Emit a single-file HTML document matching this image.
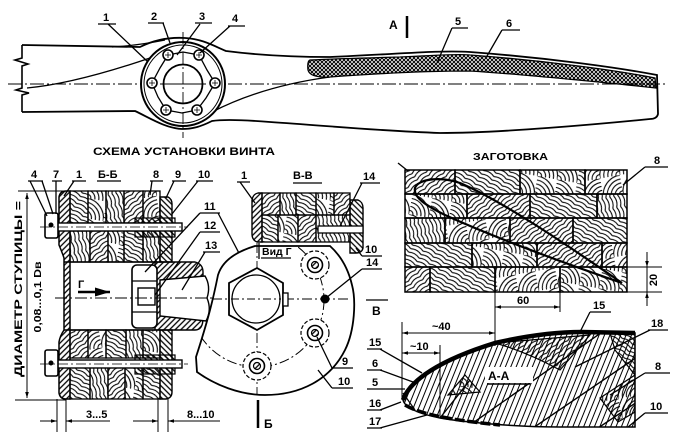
<!DOCTYPE html>
<html><head><meta charset="utf-8"><style>
html,body{margin:0;padding:0;background:#fff;}
svg{display:block;}
text{font-family:"Liberation Sans","DejaVu Sans",sans-serif;font-weight:bold;fill:#000;}
</style></head><body>
<svg width="675" height="438" viewBox="0 0 675 438" xmlns="http://www.w3.org/2000/svg">
<defs>
<pattern id="wA" width="12" height="8" patternUnits="userSpaceOnUse" patternTransform="rotate(30)"><path d="M0,2 Q6,-1 12,2 M0,6 Q6,3 12,6" fill="none" stroke="#000" stroke-width="1.1"/></pattern>
<pattern id="wB" width="12" height="8" patternUnits="userSpaceOnUse" patternTransform="rotate(-40)"><path d="M0,2 Q6,-1 12,2 M0,6 Q6,3 12,6" fill="none" stroke="#000" stroke-width="1.1"/></pattern>
<pattern id="wC" width="12" height="8" patternUnits="userSpaceOnUse" patternTransform="rotate(75)"><path d="M0,2 Q6,-1 12,2 M0,6 Q6,3 12,6" fill="none" stroke="#000" stroke-width="1.1"/></pattern>
<pattern id="wD" width="20" height="20" patternUnits="userSpaceOnUse" patternTransform="rotate(10)"><path d="M0,16 A4,4 0 0 1 4,20 M0,12 A8,8 0 0 1 8,20 M0,8 A12,12 0 0 1 12,20 M0,4 A16,16 0 0 1 16,20 M0,0 A20,20 0 0 1 20,20" fill="none" stroke="#000" stroke-width="1.1"/></pattern>
<pattern id="wE" width="20" height="20" patternUnits="userSpaceOnUse" patternTransform="rotate(-100)"><path d="M0,16 A4,4 0 0 1 4,20 M0,12 A8,8 0 0 1 8,20 M0,8 A12,12 0 0 1 12,20 M0,4 A16,16 0 0 1 16,20 M0,0 A20,20 0 0 1 20,20" fill="none" stroke="#000" stroke-width="1.1"/></pattern>
<pattern id="h1" width="4" height="4" patternUnits="userSpaceOnUse" patternTransform="rotate(45)"><line x1="1" y1="0" x2="1" y2="4" stroke="#000" stroke-width="1.3"/></pattern>
<pattern id="h2" width="4" height="4" patternUnits="userSpaceOnUse" patternTransform="rotate(-45)"><line x1="1" y1="0" x2="1" y2="4" stroke="#000" stroke-width="1.3"/></pattern>
<pattern id="hs" width="5" height="5" patternUnits="userSpaceOnUse" patternTransform="rotate(22)"><line x1="1" y1="0" x2="1" y2="5" stroke="#000" stroke-width="1"/></pattern>
<pattern id="xh" width="4" height="4" patternUnits="userSpaceOnUse"><path d="M0,0 L4,4 M4,0 L0,4" stroke="#000" stroke-width="1"/></pattern>
<marker id="a" viewBox="0 0 10 10" refX="10" refY="5" markerWidth="7" markerHeight="6" orient="auto-start-reverse"><path d="M0,2 L10,5 L0,8 Z"/></marker>
<clipPath id="diskclip"><path d="M255,246 C235,252 222,262 218,275 C213,300 208,320 196,357 L197,372 C215,385 240,395 265,395 C300,395 330,380 345,350 C355,330 356,300 352,285 C348,268 340,255 330,246 Z"/></clipPath>
<clipPath id="aaclip"><path d="M403,400 C410,380 440,360 495,343 C530,335 560,332 582,332 L635,333 L635,427 L560,427 C520,427 470,423 440,418 C420,414 405,408 403,400 Z"/></clipPath>
</defs>

<!-- ============ TOP PROPELLER ============ -->
<path d="M22,45 L140,47 C152,41 168,37 185,38 C202,39 212,45 226,51 C265,56 300,57 330,57 C400,54 440,50 470,52 C550,58 620,68 657,75 L658,114 Q657,119 650,119 C600,124 500,133 440,133 C380,131 330,126 270,122 C245,120 225,119 212,121 C200,127 192,129 182,129 C165,128 150,118 135,111 L22,112" fill="#fff" stroke="#000" stroke-width="1.8"/>
<path d="M22,45 L22,58 L15,60 L28,64 L22,66 L22,88 L16,90 L29,93 L22,95 L22,112" fill="none" stroke="#000" stroke-width="1.6"/>
<path d="M310,60 C330,59 360,58 400,57 C440,55 460,54 470,55 C550,61 620,71 655,78 L656,88 C620,84 520,74 470,71 C420,71 370,74 330,77 Q310,78 308,70 Q307,61 310,60 Z" fill="url(#xh)" stroke="#000" stroke-width="1.3"/>
<path d="M27,88 C60,85 100,75 150,58" fill="none" stroke="#000" stroke-width="1.3"/>
<path d="M212,112 C245,95 285,83 330,77" fill="none" stroke="#000" stroke-width="1.3"/>
<path d="M112,47 C130,46 150,43 165,40" fill="none" stroke="#000" stroke-width="1.2"/>
<line x1="8" y1="84" x2="668" y2="84" stroke="#000" stroke-width="0.9" stroke-dasharray="14 3 2 3"/>
<!-- hub -->
<circle cx="183" cy="84" r="42" fill="#fff" stroke="#000" stroke-width="2"/>
<circle cx="183" cy="84" r="39" fill="none" stroke="#000" stroke-width="1"/>
<polygon points="168,55 183,52 199,55 207,70 215,83 206,98 197,110 182,113 166,110 158,97 152,83 160,68" fill="none" stroke="#000" stroke-width="1.3"/>
<circle cx="183" cy="84" r="19.5" fill="#fff" stroke="#000" stroke-width="1.8"/>
<line x1="183" y1="32" x2="183" y2="138" stroke="#000" stroke-width="0.9" stroke-dasharray="12 3 2 3"/>
<line x1="160" y1="84" x2="206" y2="84" stroke="#000" stroke-width="0.9"/>
<g fill="#fff" stroke="#000" stroke-width="1.6">
<circle cx="168" cy="55" r="5"/><circle cx="199" cy="55" r="5"/><circle cx="152" cy="83" r="5"/><circle cx="215" cy="83" r="5"/><circle cx="166" cy="110" r="5"/><circle cx="197" cy="110" r="5"/>
</g>
<g stroke="#000" stroke-width="0.8">
<path d="M165,55 h6 M168,52 v6 M196,55 h6 M199,52 v6 M149,83 h6 M152,80 v6 M212,83 h6 M215,80 v6 M163,110 h6 M166,107 v6 M194,110 h6 M197,107 v6"/>
</g>
<!-- top labels -->
<g stroke="#000" stroke-width="1.3" fill="none">
<path d="M98,24 H116 M108,24 L148,62"/>
<path d="M148,23 H164 M163,23 L170,43"/>
<path d="M195,23 H212 M200,24 L177,55"/>
<path d="M228,26 H245 M230,26 L200,53"/>
<path d="M452,28 H468 M452,28 L437,63"/>
<path d="M502,30 H520 M502,30 L487,56"/>
</g>
<g font-size="11">
<text x="103" y="21">1</text><text x="151" y="20">2</text><text x="199" y="20">3</text><text x="232" y="22">4</text>
<text x="455" y="25">5</text><text x="506" y="27">6</text>
<text x="389" y="29" font-size="12">A</text>
</g>
<line x1="407" y1="16" x2="407" y2="38" stroke="#000" stroke-width="2.5"/>

<!-- ============ TITLES ============ -->
<text x="93" y="155" font-size="11" textLength="182" lengthAdjust="spacingAndGlyphs">СХЕМА  УСТАНОВКИ  ВИНТА</text>
<text x="473" y="160" font-size="10.5" textLength="75" lengthAdjust="spacingAndGlyphs">ЗАГОТОВКА</text>

<!-- ============ SECTION Б-Б ============ -->
<g stroke="#000" stroke-width="1.3">
<rect x="70" y="191" width="18" height="32" fill="url(#wA)"/>
<rect x="88" y="191" width="18" height="32" fill="url(#wD)"/>
<rect x="106" y="191" width="18" height="32" fill="url(#wC)"/>
<rect x="124" y="191" width="19" height="32" fill="url(#wB)"/>
<rect x="143" y="191" width="17" height="32" fill="url(#wE)"/>
<rect x="70" y="231" width="20" height="31" fill="url(#wC)"/>
<rect x="90" y="231" width="18" height="31" fill="url(#wB)"/>
<rect x="108" y="231" width="16" height="31" fill="url(#wD)"/>
<rect x="124" y="231" width="19" height="31" fill="url(#wA)"/>
<rect x="143" y="231" width="17" height="31" fill="url(#wC)"/>
<rect x="70" y="330" width="18" height="28" fill="url(#wB)"/>
<rect x="88" y="330" width="18" height="28" fill="url(#wE)"/>
<rect x="106" y="330" width="20" height="28" fill="url(#wA)"/>
<rect x="126" y="330" width="17" height="28" fill="url(#wC)"/>
<rect x="143" y="330" width="17" height="28" fill="url(#wD)"/>
<rect x="70" y="366" width="20" height="33" fill="url(#wA)"/>
<rect x="90" y="366" width="18" height="33" fill="url(#wC)"/>
<rect x="108" y="366" width="17" height="33" fill="url(#wB)"/>
<rect x="125" y="366" width="18" height="33" fill="url(#wD)"/>
<rect x="143" y="366" width="17" height="33" fill="url(#wA)"/>
</g>
<!-- left plate -->
<path d="M66,191 Q60,191 59,197 L59,245 Q62,252 64,258 L64,330 Q60,336 59,342 L59,393 Q60,399 66,399 L70,399 L70,191 Z" fill="url(#h1)" stroke="#000" stroke-width="1.5"/>
<line x1="64" y1="262" x2="155" y2="262" stroke="#000" stroke-width="1.5"/>
<line x1="64" y1="330" x2="155" y2="330" stroke="#000" stroke-width="1.5"/>
<!-- right flange -->
<path d="M160,197 L168,197 Q172,199 172,204 L172,262 L160,262 Z" fill="url(#h2)" stroke="#000" stroke-width="1.4"/>
<path d="M160,330 L172,330 L172,392 Q172,398 166,399 L160,399 Z" fill="url(#h2)" stroke="#000" stroke-width="1.4"/>
<!-- hub body 13 -->
<path d="M155,262 L195,262 Q203,264 203,272 L203,318 Q203,330 195,330 L155,330 Z" fill="url(#h1)" stroke="#000" stroke-width="1.4"/>
<path d="M160,280 L205,276 Q211,286 207,298 Q212,310 206,321 L160,316 Z" fill="#fff" stroke="#000" stroke-width="1.4"/>
<!-- nut 12 -->
<rect x="132" y="265" width="25" height="63" rx="5" fill="#fff" stroke="#000" stroke-width="1.6"/>
<path d="M132,281 H157 M132,312 H157" stroke="#000" stroke-width="1.2"/>
<rect x="138" y="288" width="17" height="17" fill="#fff" stroke="#000" stroke-width="1.4"/>
<!-- bolts -->
<g stroke="#000">
<rect x="135" y="218" width="40" height="19" fill="url(#h2)" stroke-width="1.2"/>
<rect x="55" y="223" width="127" height="8" fill="#fff" stroke-width="1.4"/>
<rect x="45" y="213" width="13" height="25" rx="2" fill="#fff" stroke-width="1.6"/>
<circle cx="51" cy="225" r="2" fill="#000"/>
<rect x="135" y="355" width="40" height="19" fill="url(#h2)" stroke-width="1.2"/>
<rect x="55" y="360" width="127" height="8" fill="#fff" stroke-width="1.4"/>
<rect x="45" y="350" width="13" height="26" rx="2" fill="#fff" stroke-width="1.6"/>
<circle cx="51" cy="363" r="2" fill="#000"/>
</g>
<line x1="40" y1="227" x2="188" y2="227" stroke="#000" stroke-width="0.8" stroke-dasharray="10 3 2 3"/>
<line x1="40" y1="364" x2="188" y2="364" stroke="#000" stroke-width="0.8" stroke-dasharray="10 3 2 3"/>
<line x1="55" y1="298" x2="215" y2="298" stroke="#000" stroke-width="0.9" stroke-dasharray="12 3 2 3"/>
<!-- arrow Г -->
<line x1="78" y1="292" x2="110" y2="292" stroke="#000" stroke-width="2.5" marker-end="url(#a)"/>
<text x="78" y="288" font-size="11">Г</text>
<!-- left dimension -->
<g stroke="#000" stroke-width="1">
<line x1="18" y1="191" x2="70" y2="191"/>
<line x1="15" y1="400" x2="66" y2="400"/>
<line x1="27" y1="193" x2="27" y2="398" marker-start="url(#a)" marker-end="url(#a)"/>
</g>
<text transform="translate(22,289) rotate(-90)" text-anchor="middle" font-size="11" textLength="176" lengthAdjust="spacingAndGlyphs">ДИАМЕТР СТУПИЦЫ =</text>
<text transform="translate(41,297) rotate(-90)" text-anchor="middle" font-size="10" textLength="71" lengthAdjust="spacingAndGlyphs">0,08...0,1 Dв</text>
<!-- bottom dims -->
<g stroke="#000" stroke-width="1">
<line x1="57" y1="399" x2="57" y2="432"/><line x1="66" y1="399" x2="66" y2="432"/>
<line x1="158" y1="399" x2="158" y2="432"/><line x1="168" y1="399" x2="168" y2="432"/>
<line x1="40" y1="421" x2="57" y2="421" marker-end="url(#a)"/>
<line x1="66" y1="421" x2="110" y2="421" marker-start="url(#a)"/>
<line x1="133" y1="421" x2="158" y2="421" marker-end="url(#a)"/>
<line x1="168" y1="421" x2="220" y2="421" marker-start="url(#a)"/>
</g>
<text x="86" y="418" font-size="11">3...5</text>
<text x="187" y="418" font-size="11">8...10</text>
<!-- Б-Б labels -->
<g stroke="#000" stroke-width="1.3" fill="none">
<path d="M28,181 H43 M30,181 L47,216 M42,181 L53,214"/>
<path d="M52,181 H62 M56,181 L56,214"/>
<path d="M72,181 H86 M74,181 L64,196"/>
<path d="M97,181 H121"/>
<path d="M150,181 H163 M152,181 L150,195"/>
<path d="M172,181 H186 M174,181 L166,198"/>
<path d="M196,181 H213 M198,181 L172,214"/>
<path d="M200,213 H220 M200,213 L145,272 M218,213 L252,278"/>
<path d="M200,232 H220 M200,232 L155,295"/>
<path d="M203,252 H220 M205,252 L182,290"/>
</g>
<g font-size="11">
<text x="31" y="178">4</text><text x="53" y="178">7</text><text x="76" y="178">1</text>
<text x="98" y="178">Б-Б</text><text x="153" y="178">8</text><text x="175" y="178">9</text><text x="198" y="178">10</text>
<text x="204" y="210">11</text><text x="204" y="229">12</text><text x="205" y="249">13</text>
</g>

<!-- ============ ВИД Г ============ -->
<path d="M255,246 C235,252 222,262 218,275 C213,300 208,320 196,357 L197,372 C215,385 240,395 265,395 C300,395 330,380 345,350 C355,330 356,300 352,285 C348,268 340,255 330,246 Z" fill="#fff" stroke="#000" stroke-width="1.8"/>
<circle cx="257" cy="300" r="67" fill="none" stroke="#000" stroke-width="1" stroke-dasharray="10 3 2 3" clip-path="url(#diskclip)"/>
<line x1="212" y1="299" x2="348" y2="299" stroke="#000" stroke-width="0.9" stroke-dasharray="10 3 2 3"/>
<line x1="257" y1="243" x2="257" y2="395" stroke="#000" stroke-width="0.9" stroke-dasharray="10 3 2 3"/>
<polygon points="257,268 283,283 283,315 257,330 229,315 229,283" fill="#fff" stroke="#000" stroke-width="1.8"/>
<circle cx="256" cy="299" r="24" fill="none" stroke="#000" stroke-width="1.3"/>
<rect x="283" y="293" width="5" height="13" fill="#fff" stroke="#000" stroke-width="1.3"/>
<line x1="231" y1="299" x2="281" y2="299" stroke="#000" stroke-width="0.9" stroke-dasharray="8 3 2 3"/>
<g stroke="#000" fill="#fff">
<circle cx="315" cy="265" r="14" stroke-width="1.2" stroke-dasharray="4 2"/>
<circle cx="315" cy="265" r="7.5" stroke-width="1.6"/>
<circle cx="315" cy="265" r="3.5" fill="url(#h1)" stroke-width="1.2"/>
<circle cx="315" cy="333" r="14" stroke-width="1.2" stroke-dasharray="4 2"/>
<circle cx="315" cy="333" r="7.5" stroke-width="1.6"/>
<circle cx="315" cy="333" r="3.5" fill="url(#h1)" stroke-width="1.2"/>
<circle cx="257" cy="366" r="14" stroke-width="1.2" stroke-dasharray="4 2"/>
<circle cx="257" cy="366" r="7.5" stroke-width="1.6"/>
<circle cx="257" cy="366" r="3.5" fill="url(#h1)" stroke-width="1.2"/>
</g>
<circle cx="325" cy="299" r="4.5" fill="#000"/>
<text x="262" y="255" font-size="10.5">Вид Г</text>
<line x1="261" y1="258" x2="291" y2="258" stroke="#000" stroke-width="1.3"/>
<line x1="259" y1="243" x2="259" y2="259" stroke="#000" stroke-width="1.3"/>
<!-- labels 9,10,14,B,Б -->
<g stroke="#000" stroke-width="1.3" fill="none">
<path d="M332,368 H353 M332,368 L317,337"/>
<path d="M332,388 H353 M332,388 L318,370"/>
<path d="M362,269 H382 M362,269 L326,298"/>
<path d="M366,300 H388"/>
</g>
<line x1="258" y1="400" x2="258" y2="428" stroke="#000" stroke-width="2.5"/>
<g font-size="11">
<text x="342" y="365">9</text><text x="338" y="385">10</text>
<text x="366" y="266">14</text><text x="372" y="315" font-size="12">В</text>
<text x="264" y="428" font-size="12">Б</text>
</g>

<!-- ============ SECTION В-В ============ -->
<g stroke="#000" stroke-width="1.3">
<rect x="262" y="193" width="18" height="22" fill="url(#wB)"/>
<rect x="280" y="193" width="16" height="22" fill="url(#wC)"/>
<rect x="296" y="193" width="20" height="22" fill="url(#wA)"/>
<rect x="316" y="193" width="18" height="22" fill="url(#wD)"/>
<rect x="334" y="193" width="16" height="22" fill="url(#wB)"/>
<rect x="262" y="215" width="16" height="27" fill="url(#wA)"/>
<rect x="278" y="215" width="20" height="27" fill="url(#wD)"/>
<rect x="298" y="215" width="18" height="27" fill="url(#wB)"/>
<rect x="316" y="215" width="34" height="27" fill="url(#wC)"/>
</g>
<path d="M258,193 L262,193 L262,242 L257,242 Q252,240 252,234 L252,200 Q253,194 258,193 Z" fill="url(#h1)" stroke="#000" stroke-width="1.4"/>
<path d="M350,200 L358,200 Q363,202 363,208 L363,248 Q362,253 356,253 L350,253 Z" fill="url(#h2)" stroke="#000" stroke-width="1.4"/>
<rect x="318" y="226" width="45" height="7" fill="#fff" stroke="#000" stroke-width="1.3"/>
<g stroke="#000" stroke-width="1.3" fill="none">
<path d="M237,182 H250 M240,182 L255,203"/>
<path d="M293,183 H322"/>
<path d="M360,183 H380 M362,183 L340,226"/>
<path d="M362,256 H382 M362,256 L356,248"/>
</g>
<g font-size="11">
<text x="241" y="179">1</text><text x="293" y="179">В-В</text><text x="363" y="180">14</text><text x="365" y="253">10</text>
</g>

<!-- ============ ЗАГОТОВКА ============ -->
<g stroke="#000" stroke-width="1.5">
<rect x="405" y="170" width="50" height="24" fill="url(#wB)"/>
<rect x="455" y="170" width="65" height="24" fill="url(#wA)"/>
<rect x="520" y="170" width="65" height="24" fill="url(#wD)"/>
<rect x="585" y="170" width="42" height="24" fill="url(#wE)"/>
<rect x="405" y="194" width="62" height="24" fill="url(#wD)"/>
<rect x="467" y="194" width="63" height="24" fill="url(#wB)"/>
<rect x="530" y="194" width="67" height="24" fill="url(#wA)"/>
<rect x="597" y="194" width="30" height="24" fill="url(#wC)"/>
<rect x="405" y="218" width="40" height="25" fill="url(#wC)"/>
<rect x="445" y="218" width="65" height="25" fill="url(#wE)"/>
<rect x="510" y="218" width="63" height="25" fill="url(#wB)"/>
<rect x="573" y="218" width="54" height="25" fill="url(#wA)"/>
<rect x="405" y="243" width="67" height="24" fill="url(#wA)"/>
<rect x="472" y="243" width="65" height="24" fill="url(#wD)"/>
<rect x="537" y="243" width="65" height="24" fill="url(#wB)"/>
<rect x="602" y="243" width="25" height="24" fill="url(#wE)"/>
<rect x="405" y="267" width="25" height="25" fill="url(#wB)"/>
<rect x="430" y="267" width="65" height="25" fill="url(#wA)"/>
<rect x="495" y="267" width="65" height="25" fill="url(#wE)"/>
<rect x="560" y="267" width="67" height="25" fill="url(#wD)"/>
</g>
<path d="M622,283 C560,240 500,200 460,183 C440,176 418,179 415,188 C413,197 425,205 445,215 C500,240 570,265 622,283 Z" fill="none" stroke="#000" stroke-width="2.2"/>
<g stroke="#000" stroke-width="1" fill="none">
<line x1="627" y1="267" x2="662" y2="267"/>
<line x1="627" y1="292" x2="662" y2="292"/>
<line x1="647" y1="252" x2="647" y2="267" marker-end="url(#a)"/>
<line x1="647" y1="306" x2="647" y2="292" marker-end="url(#a)"/>
<line x1="647" y1="267" x2="647" y2="292"/>
<line x1="495" y1="292" x2="495" y2="346"/>
<line x1="560" y1="292" x2="560" y2="312"/>
<line x1="495" y1="307" x2="560" y2="307" marker-start="url(#a)" marker-end="url(#a)"/>
<path d="M645,167 H668 M645,167 L623,185" stroke-width="1.3"/>
<path d="M398,163 L408,171" stroke-width="1.3"/>
</g>
<text transform="translate(657,280) rotate(-90)" text-anchor="middle" font-size="11">20</text>
<text x="517" y="304" font-size="11">60</text>
<text x="654" y="164" font-size="11">8</text>

<!-- ============ SECTION А-А ============ -->
<path d="M403,400 C410,380 440,360 495,343 C530,335 560,332 582,332 L635,333 L635,427 L560,427 C520,427 470,423 440,418 C420,414 405,408 403,400 Z" fill="url(#hs)" stroke="#000" stroke-width="1.5"/>
<g clip-path="url(#aaclip)">
<path d="M495,343 C520,350 545,362 560,370 L590,335 Z" fill="url(#wB)" stroke="#000" stroke-width="1.2"/>
<path d="M610,333 L635,333 L635,375 L615,350 Z" fill="url(#wA)" stroke="#000" stroke-width="1.2"/>
<path d="M448,395 L465,375 L480,392 Z" fill="url(#wD)" stroke="#000" stroke-width="1.2"/>
<path d="M600,398 L635,375 L635,412 L618,422 Z" fill="url(#wE)" stroke="#000" stroke-width="1.2"/>
<g stroke="#000" stroke-width="1.4" fill="none">
<line x1="470" y1="425" x2="605" y2="330"/>
<line x1="530" y1="430" x2="640" y2="355"/>
<line x1="595" y1="430" x2="640" y2="400"/>
<line x1="440" y1="418" x2="470" y2="380"/>
</g>
<rect x="485" y="367" width="48" height="16" fill="#fff"/>
</g>
<path d="M403,400 C410,380 440,360 495,343 C530,335 560,332 582,332 L635,333" fill="none" stroke="#000" stroke-width="4.5"/>
<path d="M405,405 C420,414 450,420 500,425" fill="none" stroke="#000" stroke-width="3.5" stroke-dasharray="10 3"/>
<path d="M403,400 C405,392 410,386 418,380" fill="none" stroke="#000" stroke-width="3"/>
<line x1="403" y1="393" x2="415" y2="410" stroke="#000" stroke-width="1.2"/>
<text x="488" y="380" font-size="12">А-А</text>
<line x1="487" y1="384" x2="530" y2="384" stroke="#000" stroke-width="1.6"/>
<!-- dims -->
<g stroke="#000" stroke-width="1" fill="none">
<line x1="402" y1="322" x2="402" y2="398"/>
<line x1="440" y1="345" x2="440" y2="417"/>
<line x1="402" y1="333" x2="495" y2="333" marker-start="url(#a)" marker-end="url(#a)"/>
<line x1="402" y1="353" x2="440" y2="353" marker-start="url(#a)" marker-end="url(#a)"/>
</g>
<text x="432" y="330" font-size="11">~40</text>
<text x="410" y="350" font-size="11">~10</text>
<!-- labels -->
<g stroke="#000" stroke-width="1.3" fill="none">
<path d="M590,312 H611 M590,312 L580,332"/>
<path d="M648,330 H668 M650,330 L575,367"/>
<path d="M645,373 H670 M645,373 L610,395"/>
<path d="M645,413 H668 M645,413 L628,427"/>
<path d="M367,349 H382 M380,349 L422,373"/>
<path d="M367,370 H382 M380,370 L413,382"/>
<path d="M367,389 H382 M380,389 L405,389"/>
<path d="M367,410 H382 M380,410 L401,402"/>
<path d="M367,428 H382 M380,428 L427,415"/>
</g>
<g font-size="11">
<text x="593" y="309">15</text><text x="651" y="327">18</text><text x="655" y="370">8</text><text x="650" y="410">10</text>
<text x="369" y="346">15</text><text x="372" y="367">6</text><text x="372" y="386">5</text><text x="369" y="407">16</text><text x="369" y="425">17</text>
</g>
</svg>
</body></html>
